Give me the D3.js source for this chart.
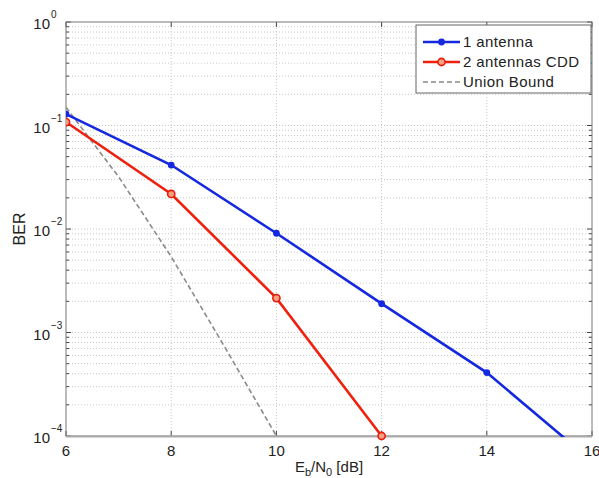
<!DOCTYPE html>
<html>
<head>
<meta charset="utf-8">
<script src="https://cdn.jsdelivr.net/npm/d3@7"></script>
<style>
  body { margin: 0; background: #fff; }
  text { font-family: "Liberation Sans", Arial, sans-serif; fill: #222; }
</style>
</head>
<body>
<div id="chart"></div>
<script>
// Eb/N0 points and BER values
var snr1 = [6, 8, 10, 12, 14, 16];
var ber1 = [0.129, 0.0415, 0.0091, 0.0019, 0.00041, 0.000057];
var snr2 = [6, 8, 10, 12];
var ber2 = [0.108, 0.0218, 0.00215, 0.0001];
var snrUb = [6, 7, 8, 9, 10];
var berUb = [0.15, 0.032, 0.0054, 0.00075, 0.0001];
var xTicks = [6, 8, 10, 12, 14, 16];
var yDecades = [0, -1, -2, -3, -4];
var legendNames = ["1 antenna", "2 antennas CDD", "Union Bound"];

var W = 599, H = 478;
var pLeft = 66, pRight = 592, pTop = 22, pBottom = 436;

var svg = d3.select("#chart")
            .append("svg")
            .attr("width", W)
            .attr("height", H)

var x = d3.scaleLinear().domain([6, 16]).range([pLeft, pRight]);
var y = d3.scaleLog().domain([1e-4, 1]).range([pBottom, pTop]);

svg.append("rect")
    .attr("x", 0).attr("y", 0).attr("width", W).attr("height", H)
    .style("fill", "#fff")

// grid
var minor = [];
for (var d = -4; d < 0; d++) {
    for (var m = 2; m <= 9; m++) minor.push(m * Math.pow(10, d));
}
var grid = svg.append("g").style("stroke", "#c8c8c8").style("stroke-dasharray", "1,2")
grid.selectAll(".gx")
    .data(xTicks.slice(1, -1))
    .enter()
    .append("line")
    .attr("x1", function(d) { return x(d); })
    .attr("x2", function(d) { return x(d); })
    .attr("y1", pTop).attr("y2", pBottom)
grid.selectAll(".gy")
    .data(minor.concat(yDecades.slice(1, -1).map(function(e) { return Math.pow(10, e); })))
    .enter()
    .append("line")
    .attr("x1", pLeft).attr("x2", pRight)
    .attr("y1", function(d) { return y(d); })
    .attr("y2", function(d) { return y(d); })

// ticks inside the box
var ticks = svg.append("g").style("stroke", "#444").style("stroke-width", 1)
xTicks.forEach(function(t) {
    ticks.append("line").attr("x1", x(t)).attr("x2", x(t)).attr("y1", pBottom).attr("y2", pBottom - 5)
    ticks.append("line").attr("x1", x(t)).attr("x2", x(t)).attr("y1", pTop).attr("y2", pTop + 5)
})
yDecades.forEach(function(e) {
    var yy = y(Math.pow(10, e));
    ticks.append("line").attr("x1", pLeft).attr("x2", pLeft + 5).attr("y1", yy).attr("y2", yy)
    ticks.append("line").attr("x1", pRight).attr("x2", pRight - 5).attr("y1", yy).attr("y2", yy)
})
minor.forEach(function(v) {
    ticks.append("line").attr("x1", pLeft).attr("x2", pLeft + 3).attr("y1", y(v)).attr("y2", y(v))
    ticks.append("line").attr("x1", pRight).attr("x2", pRight - 3).attr("y1", y(v)).attr("y2", y(v))
})

// frame
svg.append("rect")
    .attr("x", pLeft).attr("y", pTop)
    .attr("width", pRight - pLeft).attr("height", pBottom - pTop)
    .style("fill", "none")
    .style("stroke", "#777")
    .style("stroke-width", 1)
svg.append("line")
    .attr("x1", pLeft).attr("x2", pRight).attr("y1", pBottom + 0.5).attr("y2", pBottom + 0.5)
    .style("stroke", "#aaa").style("stroke-width", 2)

var defs = svg.append("defs")
defs.append("clipPath").attr("id", "clip")
    .append("rect").attr("x", pLeft).attr("y", pTop - 1)
    .attr("width", pRight - pLeft).attr("height", pBottom - pTop + 2)
defs.append("clipPath").attr("id", "clipx")
    .append("rect").attr("x", pLeft).attr("y", pTop - 10)
    .attr("width", pRight - pLeft).attr("height", pBottom - pTop + 20)

var plot = svg.append("g").attr("clip-path", "url(#clip)")

var line = d3.line()
    .x(function(d) { return x(d[0]); })
    .y(function(d) { return y(d[1]); })

plot.append("path")
    .datum(d3.zip(snrUb, berUb))
    .attr("d", line)
    .style("fill", "none")
    .style("stroke", "#8a8a8a")
    .style("stroke-width", 1.6)
    .style("stroke-dasharray", "5,3")

plot.append("path")
    .datum(d3.zip(snr2, ber2))
    .attr("d", line)
    .style("fill", "none")
    .style("stroke", "#f0200f")
    .style("stroke-width", 2.6)

plot.append("path")
    .datum(d3.zip(snr1, ber1))
    .attr("d", line)
    .style("fill", "none")
    .style("stroke", "#1428e0")
    .style("stroke-width", 2.6)

// only markers inside the axis range are drawn
function inRange(d) { return d[1] >= 1e-4 && d[1] <= 1; }
var marks = svg.append("g").attr("clip-path", "url(#clipx)")
marks.selectAll(".m2")
    .data(d3.zip(snr2, ber2).filter(inRange))
    .enter()
    .append("circle")
    .attr("cx", function(d) { return x(d[0]); })
    .attr("cy", function(d) { return y(d[1]); })
    .attr("r", 3.6)
    .style("fill", "#f7a080")
    .style("stroke", "#e81c0c")
    .style("stroke-width", 1.6)
marks.selectAll(".m1")
    .data(d3.zip(snr1, ber1).filter(inRange))
    .enter()
    .append("circle")
    .attr("cx", function(d) { return x(d[0]); })
    .attr("cy", function(d) { return y(d[1]); })
    .attr("r", 3.4)
    .style("fill", "#1428e0")

// tick labels
svg.selectAll(".xl")
    .data(xTicks)
    .enter()
    .append("text")
    .attr("x", function(d) { return x(d); })
    .attr("y", pBottom + 20)
    .attr("text-anchor", "middle")
    .style("font-size", "15px")
    .text(function(d) { return d; })

yDecades.forEach(function(e) {
    svg.append("text")
        .attr("x", 50)
        .attr("y", y(Math.pow(10, e)) + 7)
        .attr("text-anchor", "end")
        .style("font-size", "15px")
        .text("10")
    svg.append("text")
        .attr("x", 51)
        .attr("y", y(Math.pow(10, e)) - 4)
        .style("font-size", "10px")
        .text(e == 0 ? "0" : "\u2212" + (-e))
})

svg.append("text")
    .attr("transform", "translate(25," + ((pTop + pBottom) / 2) + ") rotate(-90)")
    .attr("text-anchor", "middle")
    .style("font-size", "16px")
    .text("BER")

var xl = svg.append("text")
    .attr("x", (pLeft + pRight) / 2)
    .attr("y", 472)
    .attr("text-anchor", "middle")
    .style("font-size", "15px")
xl.append("tspan").text("E")
xl.append("tspan").attr("dy", 4).style("font-size", "11px").text("b")
xl.append("tspan").attr("dy", -4).text("/N")
xl.append("tspan").attr("dy", 4).style("font-size", "11px").text("0")
xl.append("tspan").attr("dy", -4).text(" [dB]")

// legend
var lg = svg.append("g")
lg.append("rect")
    .attr("x", 416).attr("y", 25).attr("width", 175).attr("height", 68)
    .style("fill", "#fff").style("stroke", "#666")
var lstyle = [
    { c: "#1428e0", w: 2.6, dash: null },
    { c: "#f0200f", w: 2.6, dash: null },
    { c: "#8a8a8a", w: 1.6, dash: "5,3" }
]
legendNames.forEach(function(name, i) {
    var yy = 42 + i * 20;
    lg.append("line")
        .attr("x1", 423).attr("x2", 460).attr("y1", yy).attr("y2", yy)
        .style("stroke", lstyle[i].c).style("stroke-width", lstyle[i].w)
        .style("stroke-dasharray", lstyle[i].dash)
    if (i == 0) {
        lg.append("circle").attr("cx", 441.5).attr("cy", yy).attr("r", 3.4).style("fill", lstyle[i].c)
    }
    if (i == 1) {
        lg.append("circle").attr("cx", 441.5).attr("cy", yy).attr("r", 3.6)
            .style("fill", "#f7a080").style("stroke", "#e81c0c").style("stroke-width", 1.6)
    }
    lg.append("text")
        .attr("x", 463).attr("y", yy + 5)
        .style("font-size", "15px")
        .style("letter-spacing", "0.4px")
        .text(name)
})
</script>
</body>
</html>
